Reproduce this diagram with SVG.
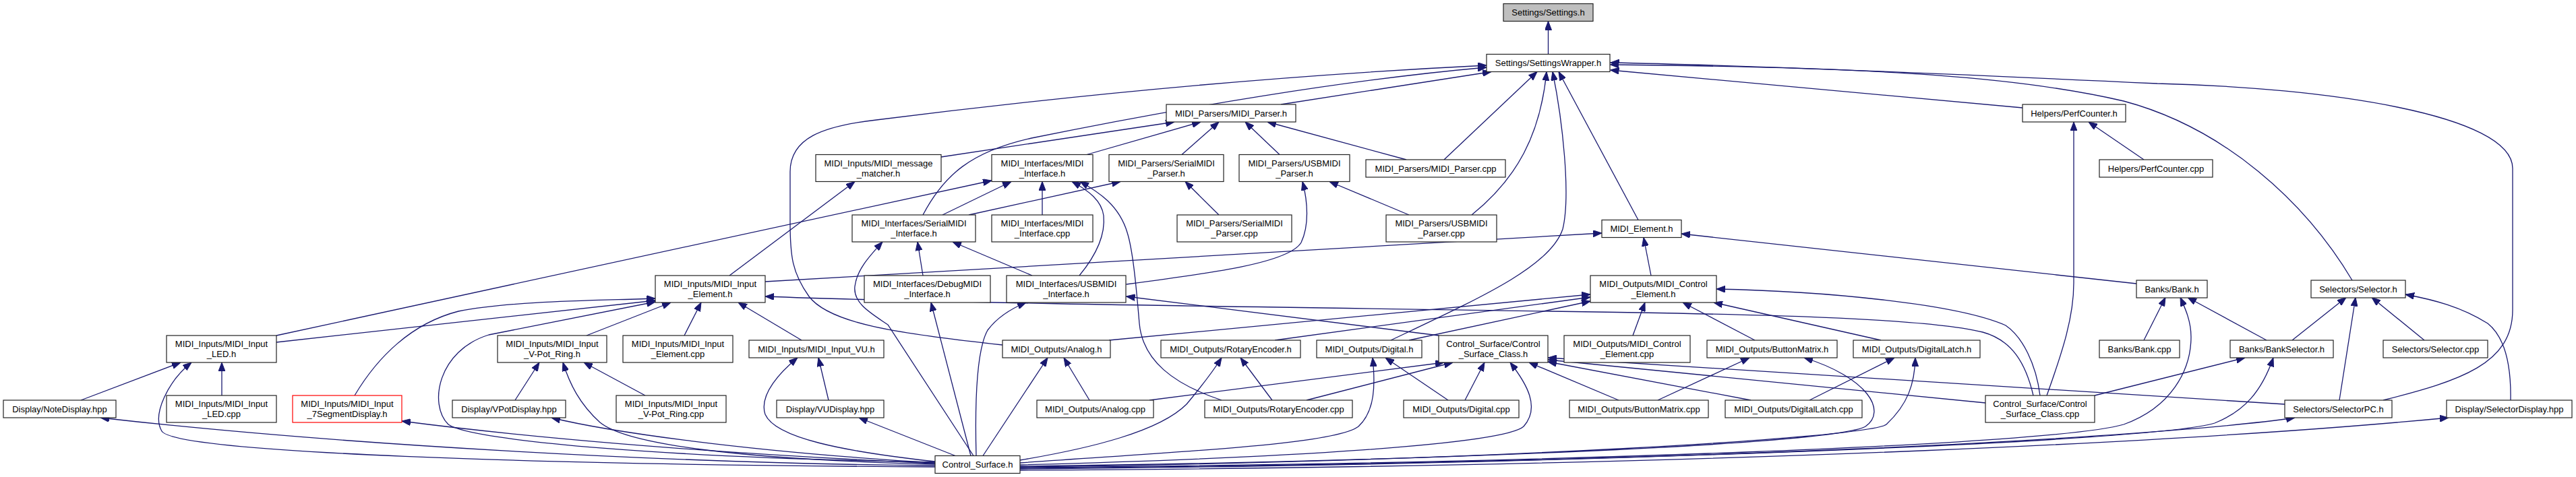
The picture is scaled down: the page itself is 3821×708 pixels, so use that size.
<svg xmlns="http://www.w3.org/2000/svg" width="3821" height="708" viewBox="0 0 3821 708">
<style>
.n rect{fill:#fff;stroke:#222;stroke-width:1.2}
.n text{font-family:"Liberation Sans",Arial,sans-serif;font-size:13px;text-anchor:middle;fill:#000}
.e path{fill:none;stroke:#191970;stroke-width:1.3;marker-end:url(#ah)}
</style>
<defs>
<marker id="ah" markerUnits="userSpaceOnUse" markerWidth="13" markerHeight="10" refX="13" refY="5" orient="auto">
<path d="M0,0 L13,5 L0,10 z" fill="#191970" stroke="#191970" stroke-width="1"/>
</marker>
</defs>
<rect width="3821" height="708" fill="#fff"/>
<g id="edges" class="e">
<path d="M2296.5,80.5 L2296.5,31.5"/>
<path d="M1900,155 L2212,106.5"/>
<path d="M1487,512 C1330,495 1230,480 1200,440 C1175,405 1172,380 1172,330 L1172,255 C1172,205 1220,187 1300,178 C1600,140 1900,112 2205,97"/>
<path d="M1369,319 C1400,260 1440,225 1530,205 C1750,160 2000,118 2205,100"/>
<path d="M2142,237 L2280,106.5"/>
<path d="M2183,319 C2250,265 2285,200 2294,106.5"/>
<path d="M2063,505 C2200,440 2300,395 2318,340 C2330,290 2318,180 2303,106.5"/>
<path d="M2430,326.5 L2312,106.5"/>
<path d="M3000,160 L2388.5,104"/>
<path d="M3489,416 C3420,300 3300,190 3150,150 C3000,115 2800,100 2388.5,96"/>
<path d="M3535,594 C3650,565 3727,540 3727,460 L3727,250 C3727,170 3450,130 3200,124 C2900,110 2600,97 2388.5,93"/>
<path d="M1396,233 L1742,181"/>
<path d="M1612,229.5 L1781,181"/>
<path d="M1753,229.5 L1808,181"/>
<path d="M1898,229.5 L1847,181"/>
<path d="M2086,237 L1880,181"/>
<path d="M1082,409 L1268,269.5"/>
<path d="M410,498 L1471,268"/>
<path d="M1398,319 L1500,269.5"/>
<path d="M1546,319 L1546,269.5"/>
<path d="M1601,409 C1625,380 1640,350 1637,320 C1634,298 1615,283 1590,269.5"/>
<path d="M1812,594 C1740,570 1695,535 1690,480 C1685,420 1680,370 1672,345 C1660,305 1630,285 1602,269.5"/>
<path d="M1808,319 L1758,269.5"/>
<path d="M1437,319 L1662,269.5"/>
<path d="M2090,319 L1972,269.5"/>
<path d="M1670.5,422 C1800,405 1912,390 1930,360 C1942,335 1940,300 1932,269.5"/>
<path d="M1444,676.5 L1317,482 C1292,465 1265,450 1268,425 C1271,400 1290,380 1309,359"/>
<path d="M1369,409 L1361,359"/>
<path d="M1531,409 L1413,359"/>
<path d="M1440,676.5 L1381,449"/>
<path d="M1448,676.5 C1446,600 1448,520 1465,490 C1480,470 1500,458 1522,449"/>
<path d="M2134,498 L1670.5,440"/>
<path d="M410,508 L972,446"/>
<path d="M526,587 C560,530 610,480 680,462 C760,446 900,446 972,443"/>
<path d="M1387,686 C1000,680 700,655 665,630 C635,600 650,520 725,497 L972,448"/>
<path d="M870,498 L995,449"/>
<path d="M1015,498 L1040,449"/>
<path d="M1189,505 L1095,449"/>
<path d="M3016,587 C3005,540 2985,505 2941,493 C2860,472 2600,466 2300,462 C1900,456 1400,450 1135,440"/>
<path d="M1135,418 L2376,346"/>
<path d="M2449,409 L2438,352.5"/>
<path d="M3169,421 L2494,347"/>
<path d="M1645,505 L2359,437"/>
<path d="M1891,505 L2359,441"/>
<path d="M2090,505 L2359,447"/>
<path d="M2422,498 L2440,449"/>
<path d="M2603,505 L2496,449"/>
<path d="M2790,505 L2542,449"/>
<path d="M3026,587 C3020,540 3000,500 2975,483 C2900,450 2700,432 2546,429"/>
<path d="M1705,594 L2142,538"/>
<path d="M1938,594 L2155,538"/>
<path d="M2173,594 L2202,538"/>
<path d="M1513,690 C1900,680 2230,660 2260,633 C2285,605 2265,570 2240,538"/>
<path d="M2401,594 L2268,538"/>
<path d="M2597,594 L2296,537"/>
<path d="M2945,598 L2296,534"/>
<path d="M3389,600 L2296,531"/>
<path d="M2148,594 L2055,531"/>
<path d="M1513,687 C1750,670 1980,660 2015,633 C2040,610 2040,570 2036,531"/>
<path d="M1887,594 L1840,531"/>
<path d="M1513,683 C1620,665 1720,640 1760,600 C1785,570 1800,550 1812,531"/>
<path d="M1616,594 L1578,531"/>
<path d="M1458,676.5 L1554,531"/>
<path d="M2459,594 L2595,531"/>
<path d="M1513,692 C2100,685 2720,660 2767,633 C2800,610 2770,560 2676,531"/>
<path d="M2684,594 L2810,531"/>
<path d="M1513,693 C2200,685 2770,650 2798,630 C2830,600 2840,570 2841,531"/>
<path d="M3180,505 L3212,441.5"/>
<path d="M3362,505 L3245,441.5"/>
<path d="M1513,694 C2300,688 3050,660 3150,630 C3220,605 3250,550 3250,500 C3250,475 3240,455 3234,441.5"/>
<path d="M3107,587 L3330,531"/>
<path d="M1513,695 C2400,688 3200,655 3285,628 C3330,610 3355,580 3372,531"/>
<path d="M3400,505 L3480,441.5"/>
<path d="M3470,594 L3494,441.5"/>
<path d="M3596,505 L3518,441.5"/>
<path d="M3724,594 C3725,540 3715,500 3690,480 C3650,455 3610,445 3568,437"/>
<path d="M1513,696 C2500,688 3200,650 3404,620"/>
<path d="M1513,698 C2600,692 3300,652 3632,620"/>
<path d="M3180,237 L3098,181"/>
<path d="M3036,587 C3060,520 3076,470 3076,420 L3076,181"/>
<path d="M1229,594 L1214,531"/>
<path d="M1387,685 C1250,670 1150,650 1135,615 C1125,585 1160,550 1183,531"/>
<path d="M1417,676.5 L1274,620"/>
<path d="M764,594 L800,538"/>
<path d="M957,587 L866,538"/>
<path d="M1387,689 C1100,682 930,660 890,627 C860,600 845,570 835,538"/>
<path d="M1387,687 C1100,670 900,640 818,620"/>
<path d="M120,594 L268,538"/>
<path d="M329,587 L329,538"/>
<path d="M1387,693 C800,690 260,672 240,640 C225,615 250,565 284,538"/>
<path d="M1387,691 C1000,688 500,660 149,620"/>
<path d="M1387,688 C1000,670 750,645 596,625"/>
</g>
<g id="n_settings" class="n"><rect x="2230" y="5.5" width="133" height="26" style="fill:#bfbfbf"/><text x="2296.5" y="23">Settings/Settings.h</text></g>
<g id="n_wrapper" class="n"><rect x="2205" y="80.5" width="183" height="26"/><text x="2296.5" y="98">Settings/SettingsWrapper.h</text></g>
<g id="n_mparser" class="n"><rect x="1730" y="155" width="192" height="26"/><text x="1826" y="172.5">MIDI_Parsers/MIDI_Parser.h</text></g>
<g id="n_perfh" class="n"><rect x="3000" y="155" width="153" height="26"/><text x="3076.5" y="172.5">Helpers/PerfCounter.h</text></g>
<g id="n_matcher" class="n"><rect x="1210" y="229.5" width="186" height="40"/><text x="1303" y="246.5">MIDI_Inputs/MIDI_message</text><text x="1303" y="261.5">_matcher.h</text></g>
<g id="n_miface" class="n"><rect x="1471" y="229.5" width="150" height="40"/><text x="1546" y="246.5">MIDI_Interfaces/MIDI</text><text x="1546" y="261.5">_Interface.h</text></g>
<g id="n_smparser" class="n"><rect x="1645" y="229.5" width="170" height="40"/><text x="1730" y="246.5">MIDI_Parsers/SerialMIDI</text><text x="1730" y="261.5">_Parser.h</text></g>
<g id="n_umparser" class="n"><rect x="1838" y="229.5" width="164" height="40"/><text x="1920" y="246.5">MIDI_Parsers/USBMIDI</text><text x="1920" y="261.5">_Parser.h</text></g>
<g id="n_mparsercpp" class="n"><rect x="2026" y="237" width="207" height="26"/><text x="2129.5" y="254.5">MIDI_Parsers/MIDI_Parser.cpp</text></g>
<g id="n_perfcpp" class="n"><rect x="3114" y="237" width="168" height="26"/><text x="3198" y="254.5">Helpers/PerfCounter.cpp</text></g>
<g id="n_smiface" class="n"><rect x="1264" y="319" width="183" height="40"/><text x="1355.5" y="336">MIDI_Interfaces/SerialMIDI</text><text x="1355.5" y="351">_Interface.h</text></g>
<g id="n_mifacecpp" class="n"><rect x="1471" y="319" width="150" height="40"/><text x="1546" y="336">MIDI_Interfaces/MIDI</text><text x="1546" y="351">_Interface.cpp</text></g>
<g id="n_smparsercpp" class="n"><rect x="1746" y="319" width="170" height="40"/><text x="1831" y="336">MIDI_Parsers/SerialMIDI</text><text x="1831" y="351">_Parser.cpp</text></g>
<g id="n_umparsercpp" class="n"><rect x="2056" y="319" width="164" height="40"/><text x="2138" y="336">MIDI_Parsers/USBMIDI</text><text x="2138" y="351">_Parser.cpp</text></g>
<g id="n_melement" class="n"><rect x="2376" y="326.5" width="118" height="26"/><text x="2435" y="344">MIDI_Element.h</text></g>
<g id="n_ielem" class="n"><rect x="972" y="409" width="163" height="40"/><text x="1053.5" y="426">MIDI_Inputs/MIDI_Input</text><text x="1053.5" y="441">_Element.h</text></g>
<g id="n_dbgiface" class="n"><rect x="1282" y="409" width="187" height="40"/><text x="1375.5" y="426">MIDI_Interfaces/DebugMIDI</text><text x="1375.5" y="441">_Interface.h</text></g>
<g id="n_usbiface" class="n"><rect x="1493" y="409" width="177" height="40"/><text x="1581.5" y="426">MIDI_Interfaces/USBMIDI</text><text x="1581.5" y="441">_Interface.h</text></g>
<g id="n_mce" class="n"><rect x="2359" y="409" width="187" height="40"/><text x="2452.5" y="426">MIDI_Outputs/MIDI_Control</text><text x="2452.5" y="441">_Element.h</text></g>
<g id="n_bank" class="n"><rect x="3169" y="416" width="105" height="26"/><text x="3221.5" y="433.5">Banks/Bank.h</text></g>
<g id="n_selector" class="n"><rect x="3428" y="416" width="140" height="26"/><text x="3498" y="433.5">Selectors/Selector.h</text></g>
<g id="n_led" class="n"><rect x="247" y="498" width="163" height="40"/><text x="328.5" y="515">MIDI_Inputs/MIDI_Input</text><text x="328.5" y="530">_LED.h</text></g>
<g id="n_vpot" class="n"><rect x="738" y="498" width="162" height="40"/><text x="819" y="515">MIDI_Inputs/MIDI_Input</text><text x="819" y="530">_V-Pot_Ring.h</text></g>
<g id="n_ielemcpp" class="n"><rect x="924" y="498" width="163" height="40"/><text x="1005.5" y="515">MIDI_Inputs/MIDI_Input</text><text x="1005.5" y="530">_Element.cpp</text></g>
<g id="n_vu" class="n"><rect x="1111" y="505" width="200" height="26"/><text x="1211" y="522.5">MIDI_Inputs/MIDI_Input_VU.h</text></g>
<g id="n_analog" class="n"><rect x="1487" y="505" width="160" height="26"/><text x="1567" y="522.5">MIDI_Outputs/Analog.h</text></g>
<g id="n_rotary" class="n"><rect x="1722" y="505" width="207" height="26"/><text x="1825.5" y="522.5">MIDI_Outputs/RotaryEncoder.h</text></g>
<g id="n_digital" class="n"><rect x="1953" y="505" width="156" height="26"/><text x="2031" y="522.5">MIDI_Outputs/Digital.h</text></g>
<g id="n_csch" class="n"><rect x="2134" y="498" width="162" height="40"/><text x="2215" y="515">Control_Surface/Control</text><text x="2215" y="530">_Surface_Class.h</text></g>
<g id="n_mcecpp" class="n"><rect x="2320" y="498" width="187" height="40"/><text x="2413.5" y="515">MIDI_Outputs/MIDI_Control</text><text x="2413.5" y="530">_Element.cpp</text></g>
<g id="n_bm" class="n"><rect x="2532" y="505" width="193" height="26"/><text x="2628.5" y="522.5">MIDI_Outputs/ButtonMatrix.h</text></g>
<g id="n_dl" class="n"><rect x="2749" y="505" width="188" height="26"/><text x="2843" y="522.5">MIDI_Outputs/DigitalLatch.h</text></g>
<g id="n_bankcpp" class="n"><rect x="3114" y="505" width="119" height="26"/><text x="3173.5" y="522.5">Banks/Bank.cpp</text></g>
<g id="n_banksel" class="n"><rect x="3308" y="505" width="153" height="26"/><text x="3384.5" y="522.5">Banks/BankSelector.h</text></g>
<g id="n_selcpp" class="n"><rect x="3535" y="505" width="155" height="26"/><text x="3612.5" y="522.5">Selectors/Selector.cpp</text></g>
<g id="n_notedisp" class="n"><rect x="5" y="594" width="167" height="26"/><text x="88.5" y="611.5">Display/NoteDisplay.hpp</text></g>
<g id="n_ledcpp" class="n"><rect x="247" y="587" width="163" height="40"/><text x="328.5" y="604">MIDI_Inputs/MIDI_Input</text><text x="328.5" y="619">_LED.cpp</text></g>
<g id="n_7seg" class="n"><rect x="434" y="587" width="162" height="40" style="stroke:#ff0000"/><text x="515" y="604">MIDI_Inputs/MIDI_Input</text><text x="515" y="619">_7SegmentDisplay.h</text></g>
<g id="n_vpotdisp" class="n"><rect x="671" y="594" width="168" height="26"/><text x="755" y="611.5">Display/VPotDisplay.hpp</text></g>
<g id="n_vpotcpp" class="n"><rect x="914" y="587" width="163" height="40"/><text x="995.5" y="604">MIDI_Inputs/MIDI_Input</text><text x="995.5" y="619">_V-Pot_Ring.cpp</text></g>
<g id="n_vudisp" class="n"><rect x="1152" y="594" width="159" height="26"/><text x="1231.5" y="611.5">Display/VUDisplay.hpp</text></g>
<g id="n_analogcpp" class="n"><rect x="1538" y="594" width="173" height="26"/><text x="1624.5" y="611.5">MIDI_Outputs/Analog.cpp</text></g>
<g id="n_rotarycpp" class="n"><rect x="1787" y="594" width="219" height="26"/><text x="1896.5" y="611.5">MIDI_Outputs/RotaryEncoder.cpp</text></g>
<g id="n_digitalcpp" class="n"><rect x="2082" y="594" width="171" height="26"/><text x="2167.5" y="611.5">MIDI_Outputs/Digital.cpp</text></g>
<g id="n_bmcpp" class="n"><rect x="2328" y="594" width="206" height="26"/><text x="2431" y="611.5">MIDI_Outputs/ButtonMatrix.cpp</text></g>
<g id="n_dlcpp" class="n"><rect x="2559" y="594" width="203" height="26"/><text x="2660.5" y="611.5">MIDI_Outputs/DigitalLatch.cpp</text></g>
<g id="n_csccpp" class="n"><rect x="2945" y="587" width="162" height="40"/><text x="3026" y="604">Control_Surface/Control</text><text x="3026" y="619">_Surface_Class.cpp</text></g>
<g id="n_selpc" class="n"><rect x="3389" y="594" width="159" height="26"/><text x="3468.5" y="611.5">Selectors/SelectorPC.h</text></g>
<g id="n_seldisp" class="n"><rect x="3629" y="594" width="186" height="26"/><text x="3722" y="611.5">Display/SelectorDisplay.hpp</text></g>
<g id="n_cs" class="n"><rect x="1387" y="676.5" width="126" height="26"/><text x="1450" y="694">Control_Surface.h</text></g>
</svg>
